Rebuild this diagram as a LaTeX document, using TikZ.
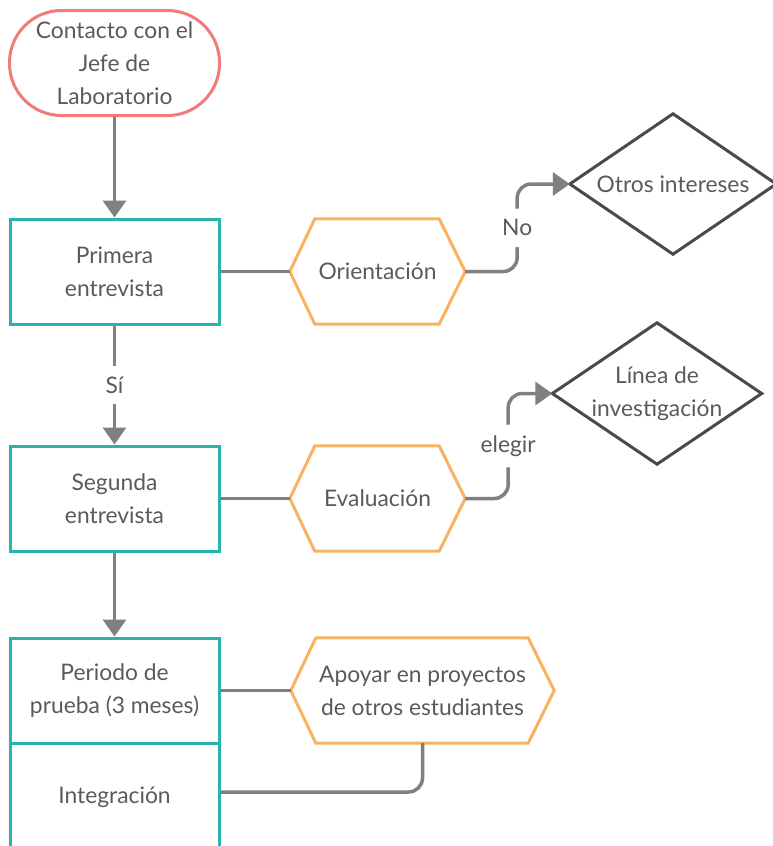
\documentclass[tikz,border=0pt]{standalone}
\usepackage{fontspec}
\setmainfont{Lato}
\usetikzlibrary{arrows.meta}
\definecolor{salmon}{HTML}{F27A7A}
\definecolor{tealc}{HTML}{2AB2AE}
\definecolor{orangec}{HTML}{F8B261}
\definecolor{conngray}{HTML}{808080}
\definecolor{diagray}{HTML}{4A4A4A}
\definecolor{textgray}{HTML}{5A5A5A}
\tikzset{
  txt/.style={font=\fontsize{22.8}{33}\selectfont, text=textgray, align=center, inner sep=0pt},
  term/.style={txt, draw=salmon, line width=3pt, rounded corners=52pt, minimum width=210pt, minimum height=105pt},
  proc/.style={txt, draw=tealc, line width=3pt, minimum width=209pt, minimum height=105pt},
  hexbox/.style={txt, minimum height=105pt},
  hexline/.style={draw=orangec, line width=3pt, line join=miter},
  diabox/.style={txt},
  dialine/.style={draw=diagray, line width=3pt, line join=miter},
  conn/.style={draw=conngray, line width=3.5pt},
  arr/.style={conn, -{Triangle[length=17pt,width=23pt]}},
  lbl/.style={txt, fill=white, inner xsep=4pt, inner ysep=11pt},
}
\begin{document}
\begin{tikzpicture}[x=1pt,y=-1pt]
\useasboundingbox (0,0) rectangle (773,846);
\clip (0,0) rectangle (773,846);

% process nodes
\node[term] (start) at (114.5,63) {Contacto con el\\Jefe de\\Laboratorio};
\node[proc] (box1) at (114.5,271.5) {Primera\\entrevista};
\node[proc] (box2) at (114.5,498.5) {Segunda\\entrevista};
\node[proc] (box3) at (114.5,690.5) {Periodo de\\prueba (3 meses)};
\node[proc, minimum height=108pt] (box4) at (114.5,797) {Integración};

% hexagons
\node[hexbox, minimum width=175pt] (ori) at (377.5,271.5) {Orientación};
\node[hexbox, minimum width=175pt] (eva) at (377.5,498.5) {Evaluación};
\node[hexbox, minimum width=263pt] (apo) at (422.5,690.5) {Apoyar en proyectos\\de otros estudiantes};
\foreach \h in {ori,eva,apo}{
  \draw[hexline] (\h.west) -- ([xshift=25pt]\h.north west) -- ([xshift=-26pt]\h.north east)
    -- (\h.east) -- ([xshift=-26pt]\h.south east) -- ([xshift=25pt]\h.south west) -- cycle;
}

% diamonds
\node[diabox, minimum width=206pt, minimum height=140pt] (d1) at (673,184) {Otros intereses};
\node[diabox, minimum width=209pt, minimum height=141pt] (d2) at (657,393.5) {Línea de\\investigación};
\foreach \d in {d1,d2}{
  \draw[dialine] (\d.west) -- (\d.north) -- (\d.east) -- (\d.south) -- cycle;
}

% connectors
\draw[arr] (start.south) -- (box1.north);
\draw[arr] (box1.south) -- node[lbl] {Sí} (box2.north);
\draw[arr] (box2.south) -- (box3.north);

\draw[conn] (box1.east) -- (ori.west);
\draw[conn] (box2.east) -- (eva.west);
\draw[conn] (box3.east) -- (apo.west);

\draw[arr, rounded corners=14pt] (ori.east) -- ++(52,0) |- node[lbl, pos=0.25] {No} (d1.west);
\draw[arr, rounded corners=14pt] (eva.east) -- ++(43,0) |- node[lbl, pos=0.25] {elegir} (d2.west);
\draw[conn, rounded corners=14pt] (apo.south) |- ([yshift=5pt]box4.east);
\end{tikzpicture}
\end{document}
